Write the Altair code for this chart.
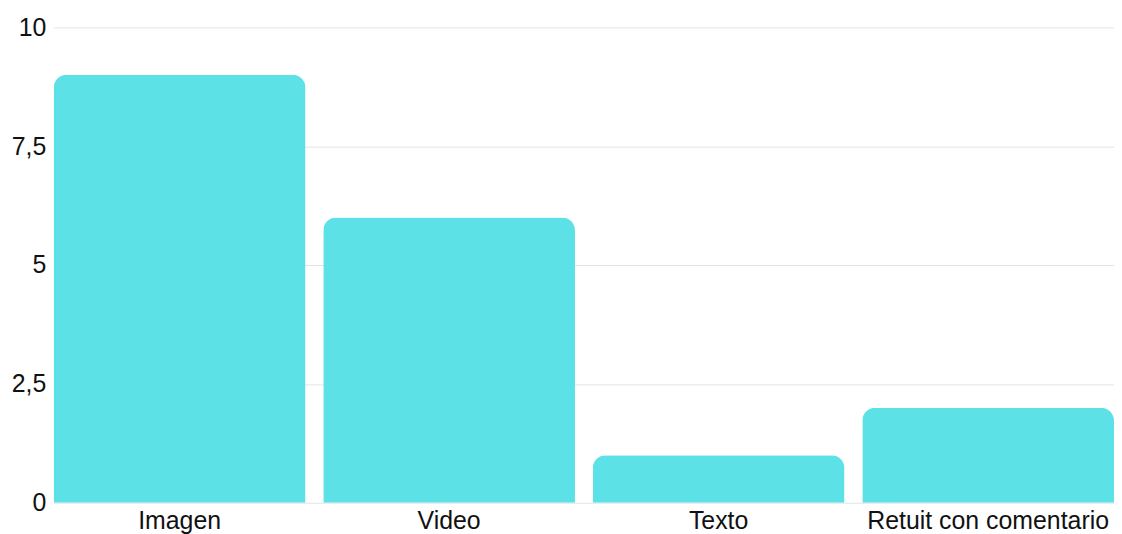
import altair as alt
import pandas as pd

categories = ["Imagen", "Video", "Texto", "Retuit con comentario"]
values = [9, 6, 1, 2]

df = pd.DataFrame({"cat": categories, "val": values})

chart = alt.Chart(df).mark_bar(
    color="#5ce1e6", cornerRadiusTopLeft=13, cornerRadiusTopRight=13
).encode(
    x=alt.X("cat:N", sort=categories, title=None,
            scale=alt.Scale(paddingInner=0.066, paddingOuter=0, round=False),
            axis=alt.Axis(labelAngle=0, labelFontSize=25, labelColor="#111111",
                          labelFont="Liberation Sans", domain=False, ticks=False,
                          labelPadding=6, labelLimit=0, grid=False)),
    y=alt.Y("val:Q", title=None,
            scale=alt.Scale(domain=[0, 10], nice=False),
            axis=alt.Axis(values=[0, 2.5, 5, 7.5, 10], labelFontSize=25,
                          labelColor="#111111", labelFont="Liberation Sans",
                          labelExpr="replace(toString(datum.value), '.', ',')",
                          domain=False, ticks=False, labelPadding=8,
                          grid=True, gridColor="#e4e4e4", gridWidth=1)),
).properties(
    width=1066, height=478,
    autosize=alt.AutoSizeParams(type="none"),
    padding={"left": 46, "top": 18, "right": 0, "bottom": 34},
).configure_view(stroke=None)

chart.save("out.html", embed_options={"renderer": "svg", "actions": False})
